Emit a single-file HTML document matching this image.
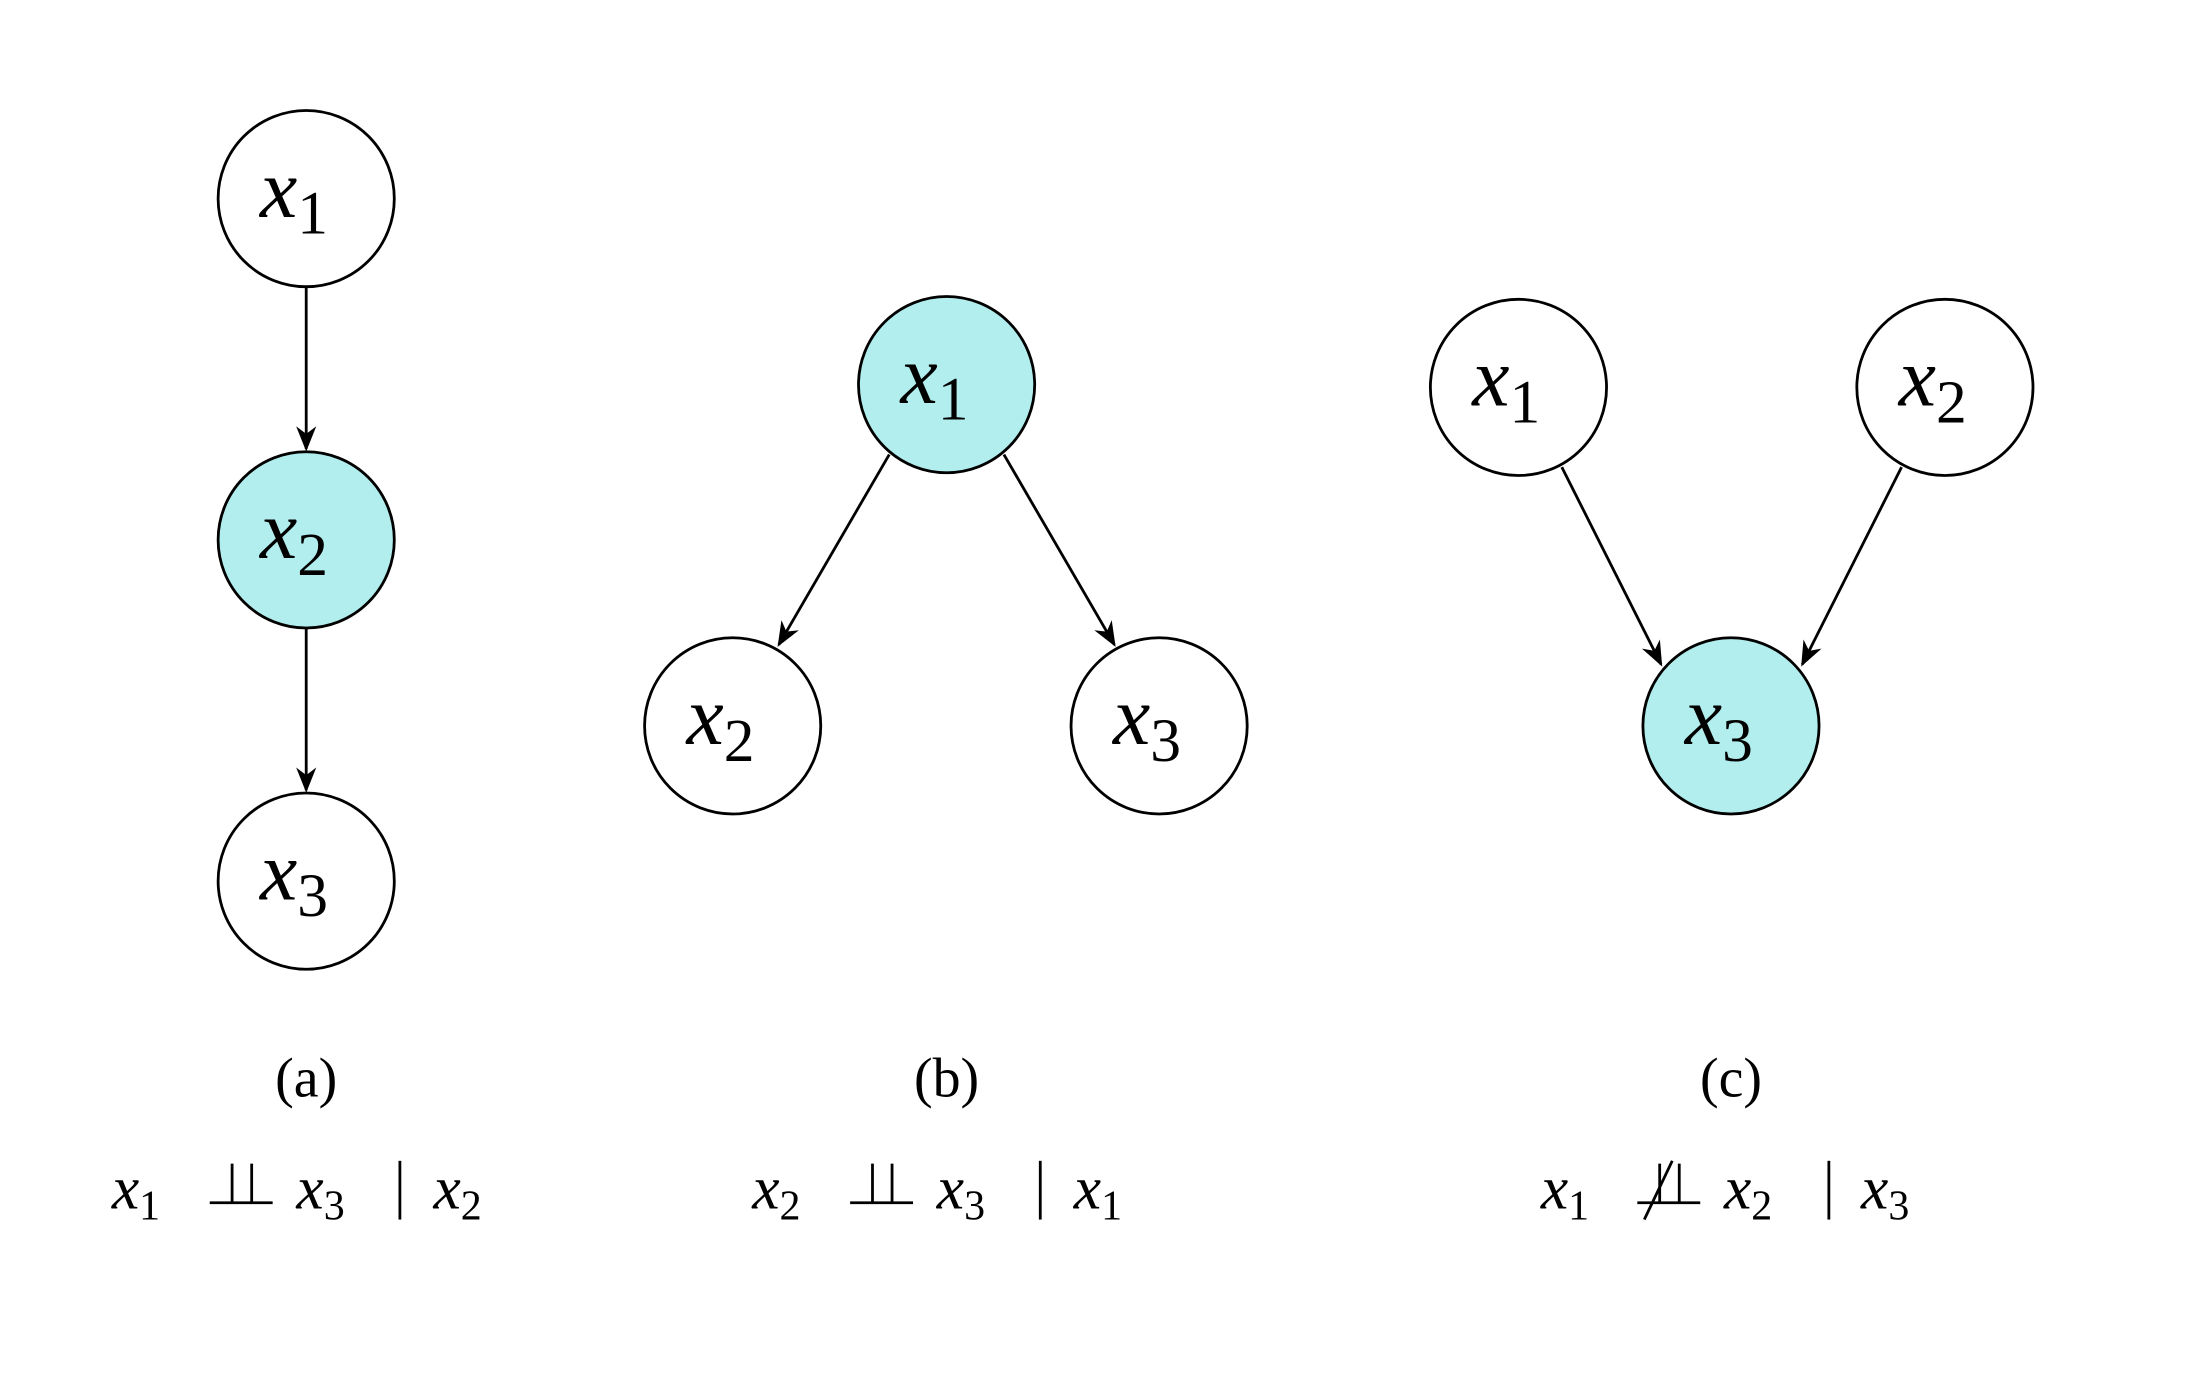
<!DOCTYPE html>
<html><head><meta charset="utf-8"><style>
html,body{margin:0;padding:0;background:#fff}
svg{display:block}
text{font-family:"Liberation Serif","DejaVu Serif",serif;fill:#000}
.v{font-style:italic}
</style></head><body>
<svg width="2191" height="1379" viewBox="0 0 1567 986" preserveAspectRatio="none" xmlns="http://www.w3.org/2000/svg">
<defs>
<marker id="b" viewBox="0 0 10 10" refX="9" refY="5" markerWidth="18" markerHeight="18" orient="auto" markerUnits="userSpaceOnUse"><path d="M0,1 L10,5 L0,9 L3,5z" fill="#000"/></marker></defs>
<g stroke="#000" stroke-width="2">
<circle cx="219" cy="142" r="63" fill="#fff"/>
<circle cx="219" cy="386" r="63" fill="#b2eeee"/>
<circle cx="219" cy="630" r="63" fill="#fff"/>
<circle cx="677" cy="275" r="63" fill="#b2eeee"/>
<circle cx="524" cy="519" r="63" fill="#fff"/>
<circle cx="829" cy="519" r="63" fill="#fff"/>
<circle cx="1086" cy="277" r="63" fill="#fff"/>
<circle cx="1391" cy="277" r="63" fill="#fff"/>
<circle cx="1238" cy="519" r="63" fill="#b2eeee"/>
<line x1="219" y1="205" x2="219" y2="321" marker-end="url(#b)"/>
<line x1="219" y1="449" x2="219" y2="565" marker-end="url(#b)"/>
<line x1="636" y1="325" x2="557" y2="461" marker-end="url(#b)"/>
<line x1="718" y1="325" x2="797" y2="461" marker-end="url(#b)"/>
<line x1="1117" y1="334" x2="1188" y2="475" marker-end="url(#b)"/>
<line x1="1360" y1="334" x2="1289" y2="475" marker-end="url(#b)"/>
</g>
<g font-size="60">
<text x="186" y="155" class="v">x<tspan font-style="normal" font-size="44" dy="12">1</tspan></text>
<text x="186" y="399" class="v">x<tspan font-style="normal" font-size="44" dy="12">2</tspan></text>
<text x="186" y="643" class="v">x<tspan font-style="normal" font-size="44" dy="12">3</tspan></text>
<text x="644" y="288" class="v">x<tspan font-style="normal" font-size="44" dy="12">1</tspan></text>
<text x="491" y="532" class="v">x<tspan font-style="normal" font-size="44" dy="12">2</tspan></text>
<text x="796" y="532" class="v">x<tspan font-style="normal" font-size="44" dy="12">3</tspan></text>
<text x="1053" y="290" class="v">x<tspan font-style="normal" font-size="44" dy="12">1</tspan></text>
<text x="1358" y="290" class="v">x<tspan font-style="normal" font-size="44" dy="12">2</tspan></text>
<text x="1205" y="532" class="v">x<tspan font-style="normal" font-size="44" dy="12">3</tspan></text>
</g>
<g font-size="40" text-anchor="middle">
<text x="219" y="784">(a)</text>
<text x="677" y="784">(b)</text>
<text x="1238" y="784">(c)</text>
</g>
<g font-size="44">
<text x="80" y="864" class="v">x<tspan font-style="normal" font-size="30" dy="8">1</tspan></text>
<text x="212" y="864" class="v">x<tspan font-style="normal" font-size="30" dy="8">3</tspan></text>
<text x="310" y="864" class="v">x<tspan font-style="normal" font-size="30" dy="8">2</tspan></text>
<text x="538" y="864" class="v">x<tspan font-style="normal" font-size="30" dy="8">2</tspan></text>
<text x="670" y="864" class="v">x<tspan font-style="normal" font-size="30" dy="8">3</tspan></text>
<text x="768" y="864" class="v">x<tspan font-style="normal" font-size="30" dy="8">1</tspan></text>
<text x="1102" y="864" class="v">x<tspan font-style="normal" font-size="30" dy="8">1</tspan></text>
<text x="1233" y="864" class="v">x<tspan font-style="normal" font-size="30" dy="8">2</tspan></text>
<text x="1331" y="864" class="v">x<tspan font-style="normal" font-size="30" dy="8">3</tspan></text>
</g>
<g stroke="#000" stroke-width="2" fill="none">
<path d="M150,860 H195 M166,832 V860 M180,832 V860"/>
<line x1="286" y1="830" x2="286" y2="872"/>
<path d="M608,860 H653 M624,832 V860 M638,832 V860"/>
<line x1="744" y1="830" x2="744" y2="872"/>
<path d="M1171,860 H1216 M1187,832 V860 M1201,832 V860"/>
<line x1="1176" y1="872" x2="1196" y2="830"/>
<line x1="1308" y1="830" x2="1308" y2="872"/>
</g>
</svg>
</body></html>
